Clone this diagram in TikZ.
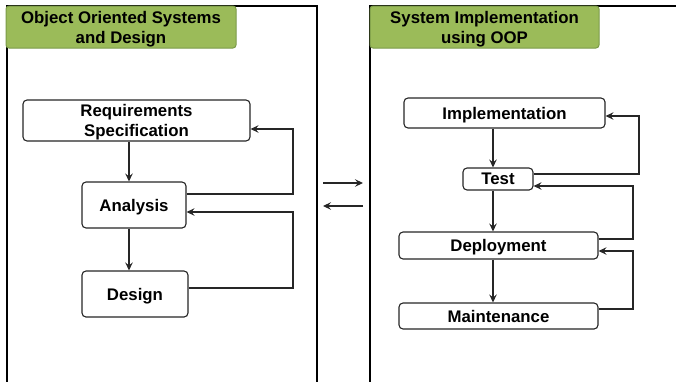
\documentclass[tikz,border=0pt]{standalone}
\usepackage{fontspec}
\setmainfont{Liberation Sans}
\usepackage{tikz}
\usetikzlibrary{arrows.meta,calc}
\definecolor{olgreen}{HTML}{9BBB59}
\definecolor{olgreendark}{HTML}{7A9A48}
\def\mauvien{black!85}
\def\mautieude{olgreen}
\begin{document}
\begin{tikzpicture}[x=1pt,y=-1pt,
	font=\fontsize{16.8}{20}\selectfont\bfseries,
	khung/.style={draw=black,line width=1.6pt},
	tieude/.style={draw=olgreendark,fill=\mautieude,rounded corners=3pt,line width=1pt,
		align=center,inner sep=0pt,text depth=0pt},
	hop/.style={draw=\mauvien,fill=white,rounded corners=4pt,line width=1.1pt,
		align=center,inner sep=0pt,text depth=0pt},
	mui/.style={draw=\mauvien,line width=1.1pt,-{Stealth[length=8pt,width=7.5pt,inset=3pt]}}]
	\useasboundingbox (0,0) rectangle (676,381);
	% two frames, open at the bottom
	\draw[khung] (7,400) -- (7,6) -- (317,6) -- (317,400);
	\draw[khung] (370,400) -- (370,6) -- (690,6);
	\path (121,27) node[tieude,minimum width=230,minimum height=42] (tdtrai) {Object Oriented Systems\\and Design}
		(484.5,27) node[tieude,minimum width=229,minimum height=42] (tdphai) {System Implementation\\using OOP};
	% left flow
	\path (136.5,120.5) node[hop,minimum width=227,minimum height=41] (req) {Requirements\\Specification}
		(134,205) node[hop,minimum width=104,minimum height=46] (ana) {Analysis}
		(135,294) node[hop,minimum width=106,minimum height=46] (des) {Design};
	\coordinate (cotL) at (293,0);
	\draw[mui] ([xshift=-5pt]ana.north |- req.south) -- ([xshift=-5pt]ana.north);
	\draw[mui] ([xshift=-5pt]ana.south) -- ([xshift=-5pt]ana.south |- des.north);
	\draw[mui] ([yshift=11pt]ana.east) -- ([yshift=11pt]ana.east -| cotL) |- ([yshift=-8.5pt]req.east);
	\draw[mui] ([yshift=6pt]des.east) -- ([yshift=6pt]des.east -| cotL) |- ([yshift=-7pt]ana.east);
	% right flow
	\path (504.5,113) node[hop,minimum width=201,minimum height=30] (impl) {Implementation}
		(498,179) node[hop,minimum width=70,minimum height=22] (test) {Test}
		(498.5,245.5) node[hop,minimum width=199,minimum height=27] (dep) {Deployment}
		(498.5,316) node[hop,minimum width=199,minimum height=26] (mnt) {Maintenance};
	\coordinate (cotR) at (639,0);
	\coordinate (cotS) at (633,0);
	\draw[mui] ([xshift=-5pt]test.north |- impl.south) -- ([xshift=-5pt]test.north);
	\draw[mui] ([xshift=-5pt]test.south) -- ([xshift=-5pt]test.south |- dep.north);
	\draw[mui] ([xshift=-5.5pt]dep.south) -- ([xshift=-5.5pt]dep.south |- mnt.north);
	\draw[mui] ([yshift=5pt]test.east) -- ([yshift=5pt]test.east -| cotR) |- ([yshift=-3pt]impl.east);
	\draw[mui] ([yshift=6.5pt]dep.east) -- ([yshift=6.5pt]dep.east -| cotS) |- ([yshift=-7pt]test.east);
	\draw[mui] ([yshift=7pt]mnt.east) -- ([yshift=7pt]mnt.east -| cotS) |- ([yshift=-5.5pt]dep.east);
	% between the two frames
	\coordinate (giuaA) at (323,183);
	\coordinate (giuaB) at (363,183);
	\coordinate (giuaC) at (363,206);
	\coordinate (giuaD) at (323,206);
	\draw[mui] (giuaA) -- (giuaB);
	\draw[mui] (giuaC) -- (giuaD);
\end{tikzpicture}
\end{document}
